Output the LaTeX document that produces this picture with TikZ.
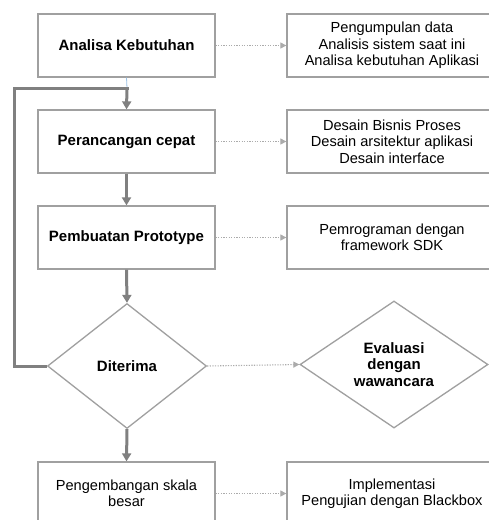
\documentclass[tikz,border=0pt]{standalone}
\usepackage{fontspec}
\setmainfont{Liberation Sans}
\usetikzlibrary{shapes.geometric,arrows.meta}
\definecolor{boxgray}{HTML}{A0A0A0}
\definecolor{linegray}{HTML}{808080}
\definecolor{dotgray}{HTML}{ABABAB}
\definecolor{thinblue}{HTML}{9DC3E6}
\tikzset{
  x=1pt, y=-1pt,
  stepbox/.style={draw=boxgray, line width=1.3pt, minimum width=177pt, minimum height=63pt, align=center, inner sep=0pt, font=\fontsize{14.6}{16.5}\selectfont, text=black},
  boldstep/.style={stepbox, font=\fontsize{15}{16.5}\selectfont\bfseries},
  infobox/.style={draw=boxgray, line width=1.3pt, minimum width=210pt, minimum height=63pt, align=center, inner sep=0pt, font=\fontsize{14.6}{16.5}\selectfont, text=black},
  decision/.style={draw=boxgray, line width=1.3pt, diamond, aspect=1.27, minimum width=159pt, minimum height=125pt, inner sep=0pt, align=center, font=\fontsize{15}{16.5}\selectfont\bfseries},
  flow/.style={draw=linegray, line width=3pt, -{Triangle[length=8pt,width=9pt]}},
  loopline/.style={draw=linegray, line width=3pt},
  dotarrow/.style={draw=dotgray, line width=1.1pt, dash pattern=on 1.2pt off 1.4pt, -{Triangle[length=6pt,width=6pt]}},
}
\begin{document}
\begin{tikzpicture}
\useasboundingbox (0,0) rectangle (489,520);
\fill[white] (0,0) rectangle (489,520);
% left column
\node[boldstep] (a1) at (126.5,45.5) {Analisa Kebutuhan};
\node[boldstep] (a2) at (126.5,141.5) {Perancangan cepat};
\node[boldstep] (a3) at (126.5,237.5) {Pembuatan Prototype};
\node[decision] (d1) at (127,366) {Diterima};
\node[stepbox] (a5) at (126.5,493.5) {Pengembangan skala\\besar};
% right column
\node[infobox] (b1) at (392,45.5) {Pengumpulan data\\Analisis sistem saat ini\\Analisa kebutuhan Aplikasi};
\node[infobox] (b2) at (392,141.5) {Desain Bisnis Proses\\Desain arsitektur aplikasi\\Desain interface};
\node[infobox] (b3) at (392,237.5) {Pemrograman dengan\\framework SDK};
\node[decision, minimum width=188pt, minimum height=127pt] (d2) at (394,364.5) {Evaluasi\\dengan\\wawancara};
\node[infobox] (b5) at (392,493.5) {Implementasi\\Pengujian dengan Blackbox};
% connectors
\coordinate (j) at (127,88);
\coordinate (lt) at (14,88);
\coordinate (lb) at (14,366);
\draw[thinblue, line width=0.8pt] (a1.south) -- (j);
\draw[loopline] (d1.west) -- (lb) -- (lt) -- ([xshift=1.5pt]j);
\draw[flow] (j) -- (a2.north);
\draw[flow] (a2.south) -- (a3.north);
\draw[flow] (a3.south) -- (d1.north);
\draw[flow] (d1.south) -- (a5.north);
\draw[dotarrow] (a1.east) -- (b1.west);
\draw[dotarrow] (a2.east) -- (b2.west);
\draw[dotarrow] (a3.east) -- (b3.west);
\draw[dotarrow] (d1.east) -- (d2.west);
\draw[dotarrow] (a5.east) -- (b5.west);
\end{tikzpicture}
\end{document}
